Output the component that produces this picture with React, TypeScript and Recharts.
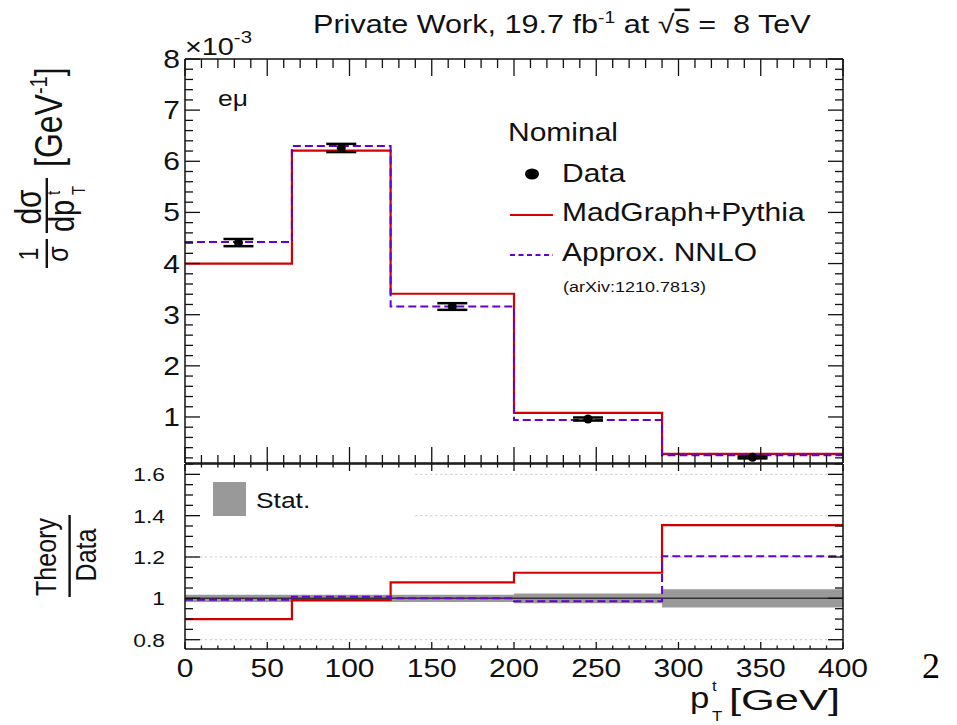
import React from "react";
import {
  ComposedChart, Line, Scatter, ErrorBar, Area,
  XAxis, YAxis, ReferenceLine,
} from "recharts";

const FONT = '"Liberation Sans", Arial, Helvetica, sans-serif';
const SX = 1.2; // glyphs are drawn a bit wide, ROOT-canvas style
const RED = "#d40000";
const VIOLET = "#6600cc";
const FRAME = { stroke: "#111", strokeWidth: 1.5 };

const W = 957;
const H = 725;

// p_T^t binning [GeV]
const binEdges = [0, 65, 125, 200, 290, 400];
const binCenters = [32.5, 95, 162.5, 245, 345];

// 1/sigma dsigma/dpT in units of 1e-3 GeV^-1
const dataXsec = [4.41, 6.26, 3.16, 0.96, 0.21];
const dataErr = [0.07, 0.08, 0.065, 0.03, 0.02];
const madgraphXsec = [4.0, 6.21, 3.41, 1.08, 0.28];
const nnloXsec = [4.42, 6.3, 3.16, 0.94, 0.25];

// theory / data
const madgraphRatio = [0.9, 0.992, 1.077, 1.124, 1.354];
const nnloRatio = [0.993, 1.008, 1.0, 0.986, 1.204];
const statRelErr = [0.018, 0.018, 0.018, 0.024, 0.044];

const xMajorTicks = [0, 50, 100, 150, 200, 250, 300, 350, 400];
const xTickLabels = ["0", "50", "100", "150", "200", "250", "300", "350", "400"];
const yMajorTicks = [1, 2, 3, 4, 5, 6, 7, 8];
const yTickLabels = ["1", "2", "3", "4", "5", "6", "7", "8"];
const ratioMajorTicks = [0.8, 1, 1.2, 1.4, 1.6];
const ratioTickLabels = ["0.8", "1", "1.2", "1.4", "1.6"];

const Y_DOMAIN: [number, number] = [0.1, 8];
const R_DOMAIN: [number, number] = [0.755, 1.65];
const X_DOMAIN: [number, number] = [0, 400];

// histogram rows for stepAfter lines: last bin content repeated at the upper edge
const stepRows = (vals: number[]) =>
  binEdges.map((x, i) => ({ x, v: vals[Math.min(i, vals.length - 1)] }));

const bandRows = binEdges.map((x, i) => {
  const s = statRelErr[Math.min(i, statRelErr.length - 1)];
  return { x, band: [1 - s, 1 + s] };
});

const dataPoints = binCenters.map((x, i) => ({ x, y: dataXsec[i], err: dataErr[i] }));

function minorTicks(lo: number, hi: number, step: number) {
  const out: number[] = [];
  for (let k = Math.ceil(lo / step - 1e-9); k * step <= hi + 1e-9; k++) {
    out.push(+(k * step).toFixed(4));
  }
  return out;
}

type Side = "left" | "right" | "top" | "bottom";

// draws inward tick marks (and optional labels) at the axis position recharts hands us
function tickMaker(
  side: Side,
  majors: number[],
  labels: string[] | null,
  majorLen: number,
  minorLen: number,
  fontSize = 25,
) {
  return (props: any) => {
    const { x, y, payload } = props;
    const v = payload.value as number;
    const mi = majors.findIndex(m => Math.abs(m - v) < 1e-6);
    const len = mi >= 0 ? majorLen : minorLen;
    const dx = side === "left" ? len : side === "right" ? -len : 0;
    const dy = side === "top" ? len : side === "bottom" ? -len : 0;
    const txt = labels && mi >= 0 ? labels[mi] : null;
    return (
      <g>
        <line x1={x} y1={y} x2={x + dx} y2={y + dy} stroke="#111" strokeWidth={1.3} />
        {txt && side === "left" && (
          <text
            transform={`translate(${x - (fontSize > 22 ? 5 : 20)},${y}) scale(${SX},1)`}
            dy="0.36em" textAnchor="end" fontSize={fontSize} fontFamily={FONT} fill="#111"
          >{txt}</text>
        )}
        {txt && side === "bottom" && (
          <text
            transform={`translate(${x},${y + 28}) scale(${SX},1)`}
            textAnchor="middle" fontSize={fontSize} fontFamily={FONT} fill="#111"
          >{txt}</text>
        )}
      </g>
    );
  };
}

const xTicks = minorTicks(0, 400, 10);
const yTicks = minorTicks(0.1, 8, 0.2);
const rTicks = minorTicks(0.755, 1.65, 0.05);

// every axis is 1px thick so recharts draws it; the plot frame is the axis lines
const axisBase = {
  type: "number" as const,
  allowDataOverflow: true,
  interval: 0 as const,
  tickSize: 0,
  tickMargin: 0,
  tickLine: false,
  axisLine: FRAME,
};

const plotMargin = (top: number, bottom: number) => ({
  left: 185 - 1, right: W - 843 - 1, top: top - 1, bottom: H - bottom - 1,
});

function TopPanel() {
  return (
    <ComposedChart width={W} height={H} margin={plotMargin(59, 463)}>
      <XAxis {...axisBase} xAxisId="b" dataKey="x" domain={X_DOMAIN} ticks={xTicks} height={1}
        tick={tickMaker("bottom", xMajorTicks, null, 16, 8)} />
      <XAxis {...axisBase} xAxisId="t" orientation="top" dataKey="x" domain={X_DOMAIN} ticks={xTicks} height={1}
        tick={tickMaker("top", xMajorTicks, null, 17, 9)} />
      <YAxis {...axisBase} yAxisId="l" domain={Y_DOMAIN} ticks={yTicks} width={1}
        tick={tickMaker("left", yMajorTicks, yTickLabels, 15, 8)} />
      <YAxis {...axisBase} yAxisId="r" orientation="right" domain={Y_DOMAIN} ticks={yTicks} width={1}
        tick={tickMaker("right", yMajorTicks, null, 15, 8)} />

      <Line xAxisId="b" yAxisId="l" data={stepRows(madgraphXsec)} dataKey="v" type="stepAfter"
        stroke={RED} strokeWidth={2.2} dot={false} activeDot={false} isAnimationActive={false} />
      <Line xAxisId="b" yAxisId="l" data={stepRows(nnloXsec)} dataKey="v" type="stepAfter"
        stroke={VIOLET} strokeWidth={2} strokeDasharray="8 4" dot={false} activeDot={false}
        isAnimationActive={false} />
      <Scatter xAxisId="b" yAxisId="l" data={dataPoints} dataKey="y" isAnimationActive={false}
        shape={(p: any) => <circle cx={p.cx} cy={p.cy} r={4.5} fill="#000" />}>
        <ErrorBar dataKey="err" direction="y" width={15} stroke="#000" strokeWidth={2.5} />
      </Scatter>
    </ComposedChart>
  );
}

function RatioPanel() {
  const ax = { xAxisId: "b", yAxisId: "l" };
  const grid = { stroke: "#c4c4c4", strokeWidth: 1, strokeDasharray: "2 3" };
  return (
    <ComposedChart width={W} height={H} margin={plotMargin(464, 649)}>
      <XAxis {...axisBase} xAxisId="b" dataKey="x" domain={X_DOMAIN} ticks={xTicks} height={1}
        tick={tickMaker("bottom", xMajorTicks, xTickLabels, 7, 3.5)} />
      <XAxis {...axisBase} xAxisId="t" orientation="top" dataKey="x" domain={X_DOMAIN} ticks={xTicks} height={1}
        tick={tickMaker("top", xMajorTicks, null, 7, 3.5)} />
      <YAxis {...axisBase} yAxisId="l" domain={R_DOMAIN} ticks={rTicks} width={1}
        tick={tickMaker("left", ratioMajorTicks, ratioTickLabels, 15, 8, 19)} />
      <YAxis {...axisBase} yAxisId="r" orientation="right" domain={R_DOMAIN} ticks={rTicks} width={1}
        tick={tickMaker("right", ratioMajorTicks, null, 15, 8)} />

      <ReferenceLine {...ax} y={0.8} {...grid} />
      <ReferenceLine {...ax} y={1.2} {...grid} />
      <ReferenceLine {...ax} segment={[{ x: 140, y: 1.4 }, { x: 400, y: 1.4 }]} {...grid} />
      <ReferenceLine {...ax} segment={[{ x: 140, y: 1.6 }, { x: 400, y: 1.6 }]} {...grid} />

      <Area {...ax} data={bandRows} dataKey="band" type="stepAfter" fill="#999" fillOpacity={1}
        stroke="none" dot={false} activeDot={false} isAnimationActive={false} />
      <ReferenceLine {...ax} y={1} stroke="#333" strokeWidth={1.5} />
      <Line {...ax} data={stepRows(madgraphRatio)} dataKey="v" type="stepAfter"
        stroke={RED} strokeWidth={2.2} dot={false} activeDot={false} isAnimationActive={false} />
      <Line {...ax} data={stepRows(nnloRatio)} dataKey="v" type="stepAfter"
        stroke={VIOLET} strokeWidth={2} strokeDasharray="8 4" dot={false} activeDot={false}
        isAnimationActive={false} />
    </ComposedChart>
  );
}

// horizontally widened text
function T({ x, y, size, anchor = "start", children, fill = "#111", fit }: any) {
  return (
    <text transform={`translate(${x},${y}) scale(${SX},1)`} fontSize={size} textAnchor={anchor}
      fontFamily={FONT} fill={fill} style={{ whiteSpace: "pre" }}
      textLength={fit ? fit / SX : undefined} lengthAdjust={fit ? "spacingAndGlyphs" : undefined}
    >{children}</text>
  );
}

function Labels() {
  return (
    <svg width={W} height={H} style={{ position: "absolute", left: 0, top: 0 }}>
      {/* header */}
      <T x={313} y={33} size={25.5}>
        Private Work, 19.7 fb<tspan fontSize={16} dy={-10}>-1</tspan>
        <tspan dy={10}> at </tspan>√<tspan textDecoration="overline">s</tspan> =  8 TeV
      </T>

      {/* exponent of the upper y axis */}
      <T x={185} y={55} size={24}>×10<tspan fontSize={17} dy={-12}>-3</tspan></T>
      <T x={218} y={106} size={22}>eμ</T>

      {/* legend, upper pad */}
      <T x={508} y={141} size={25}>Nominal</T>
      <ellipse cx={532} cy={174} rx={7} ry={5.5} fill="#000" />
      <T x={562} y={182} size={25}>Data</T>
      <line x1={510} x2={553} y1={215} y2={215} stroke={RED} strokeWidth={2} />
      <T x={562} y={221} size={25}>MadGraph+Pythia</T>
      <line x1={510} x2={553} y1={255} y2={255} stroke={VIOLET} strokeWidth={2} strokeDasharray="5 3.5" />
      <T x={562} y={261} size={25}>Approx. NNLO</T>
      <T x={563} y={292} size={15}>(arXiv:1210.7813)</T>

      {/* legend, ratio pad */}
      <rect x={213} y={482} width={33} height={34} fill="#999" />
      <T x={256} y={508} size={22}>Stat.</T>

      {/* y title, upper pad */}
      <g transform="translate(0,270) rotate(-90) scale(1,1.2)" fontFamily={FONT} fill="#111">
        <text x={16} y={32} fontSize={23} textAnchor="middle">1</text>
        <line x1={2} x2={31} y1={39} y2={39} stroke="#111" strokeWidth={2} />
        <text x={16} y={57} fontSize={25} textAnchor="middle">σ</text>
        <text x={63} y={34} fontSize={30} textAnchor="middle">dσ</text>
        <line x1={37} x2={92} y1={39} y2={39} stroke="#111" strokeWidth={2} />
        <text x={38} y={62} fontSize={29}>dp</text>
        <text x={75} y={50} fontSize={15}>t</text>
        <text x={75} y={71} fontSize={15}>T</text>
        <text x={103} y={52} fontSize={32}>[GeV<tspan fontSize={20} dy={-13}>-1</tspan><tspan dy={13}>]</tspan></text>
      </g>

      {/* y title, ratio pad */}
      <g transform="translate(0,600) rotate(-90) scale(1,1.2)" fontFamily={FONT} fill="#111">
        <text x={43} y={47} fontSize={25} textAnchor="middle">Theory</text>
        <line x1={3} x2={85} y1={58} y2={58} stroke="#111" strokeWidth={2} />
        <text x={45} y={80} fontSize={25} textAnchor="middle">Data</text>
      </g>

      {/* x title */}
      <T x={690} y={708} size={29}>p</T>
      <T x={712} y={691} size={14}>t</T>
      <T x={712} y={721} size={14}>T</T>
      <T x={729} y={710} size={29} fit={111}>[GeV]</T>

      <text x={922} y={678} fontSize={36} fontFamily='"Liberation Serif", "DejaVu Serif", serif' fill="#000">2</text>
    </svg>
  );
}

export default function App() {
  return (
    <div style={{ position: "absolute", left: 0, top: 0, width: W, height: H, background: "#fff" }}>
      <div style={{ position: "absolute", left: 0, top: 0 }}><TopPanel /></div>
      <div style={{ position: "absolute", left: 0, top: 0 }}><RatioPanel /></div>
      <Labels />
    </div>
  );
}
